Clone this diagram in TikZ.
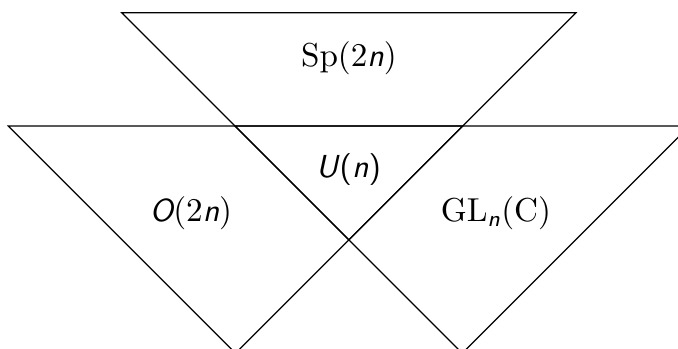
\documentclass[tikz,border=0pt]{standalone}
\usepackage{amsmath}
\usetikzlibrary{positioning}

% sans oblique letters for the group names
\newcommand{\sv}[1]{\textsf{\itshape #1}}

\begin{document}
\begin{tikzpicture}[
        x=0.33pt, y=-0.33pt,
        tri/.style={draw=black, line width=0.4pt},
        grp/.style={inner sep=1pt, font=\fontsize{10.5}{12}\selectfont},
    ]
    \clip (0,0) rectangle (678,349);
    \useasboundingbox (0,0) rectangle (678,349);

    % corners of the three triangles
    \coordinate (sptl) at (121.7,12.7);
    \coordinate (sptr) at (576,12.7);
    \coordinate (spb)  at (348.85,239.85);
    \coordinate (otl)  at (8.3,126);
    \coordinate (otr)  at (462.7,126);
    \coordinate (ob)   at (235.5,353.2);
    \coordinate (gltl) at (235,126);
    \coordinate (gltr) at (689.4,126);
    \coordinate (glb)  at (462.2,353.2);

    \draw[tri] (sptl) -- (sptr) -- (spb) -- cycle;
    \draw[tri] (otl) -- (otr) -- (ob) -- cycle;
    \draw[tri] (gltl) -- (gltr) -- (glb) -- cycle;

    \node[grp] (sp) at (349,58)  {$\mathrm{Sp}(2\sv{n})$};
    \node[grp] (u)  at (348.5,170) {\sv{U}\textsf{(}\sv{n}\textsf{)}};
    \node[grp] (o)  at (191,213) {$\sv{O}(2\sv{n})$};
    \node[grp] (gl) at (496,213) {$\mathrm{GL}_{\sv{n}}(\mathrm{C})$};
\end{tikzpicture}
\end{document}
